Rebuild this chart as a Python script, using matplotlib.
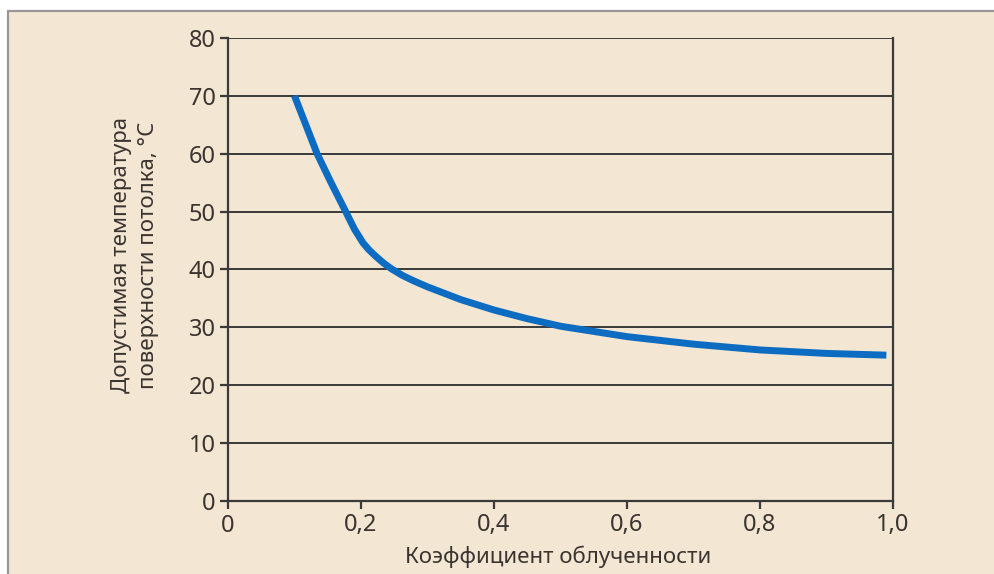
import matplotlib
matplotlib.use("Agg")
import matplotlib.pyplot as plt
from matplotlib.patches import Rectangle

plt.rcParams['font.family'] = ['Noto Sans', 'DejaVu Sans']

# data
coef = [0.10, 0.117, 0.134, 0.155, 0.177, 0.19, 0.203, 0.212, 0.222, 0.234, 0.246,
        0.262, 0.278, 0.30, 0.35, 0.40, 0.45, 0.50, 0.60, 0.70, 0.80, 0.90, 0.99]
temp = [70.0, 65.0, 60.0, 55.0, 50.0, 47.0, 44.6, 43.4, 42.3, 41.1, 40.1,
        39.0, 38.1, 37.0, 34.8, 33.0, 31.5, 30.2, 28.4, 27.1, 26.1, 25.5, 25.2]
x_ticks = [0, 0.2, 0.4, 0.6, 0.8, 1.0]
x_tick_labels = ['0', '0,2', '0,4', '0,6', '0,8', '1,0']
y_ticks = [0, 10, 20, 30, 40, 50, 60, 70, 80]

BG = '#f3e6d2'
TXT = '#3a3431'
LINE = '#3a3a3a'

fig = plt.figure(figsize=(9.95, 5.74), dpi=100)
fig.patch.set_facecolor('white')
# beige panel with grey border on top and left
panel = Rectangle((8 / 995, -0.05), 1.1, 1 - 11 / 574 + 0.05,
                  transform=fig.transFigure, facecolor=BG,
                  edgecolor='#999696', linewidth=1.6, zorder=-10)
fig.patches.append(panel)

ax = fig.add_axes([228 / 995, 73 / 574, 665 / 995, 463 / 574])
ax.set_zorder(1)
ax.set_facecolor(BG)
ax.set_xlim(0, 1.0)
ax.set_ylim(0, 80)

for y in y_ticks[1:]:
    ax.axhline(y, color=LINE, linewidth=1.4, zorder=1)

ax.plot(coef, temp, color='#0b6cc1', linewidth=5, solid_capstyle='butt',
        solid_joinstyle='round', zorder=3)

ax.spines['top'].set_visible(False)
for side in ['left', 'right', 'bottom']:
    ax.spines[side].set_color(LINE)
    ax.spines[side].set_linewidth(1.6)

ax.set_xticks(x_ticks)
ax.set_xticklabels(x_tick_labels)
ax.set_yticks(y_ticks)
ax.tick_params(axis='both', direction='out', length=6, width=1.6, color=LINE,
               labelsize=17, labelcolor=TXT, pad=3)

fig.text(558 / 995, 1 - 557 / 574, 'Коэффициент облученности', ha='center', va='center',
         fontsize=16, color=TXT)
fig.text(135 / 995, 1 - 255 / 574, 'Допустимая температура\nповерхности потолка, °C',
         ha='center', va='center', rotation=90, fontsize=16, color=TXT,
         linespacing=1.35)

fig.savefig('out.png', dpi=100, facecolor=fig.get_facecolor())
